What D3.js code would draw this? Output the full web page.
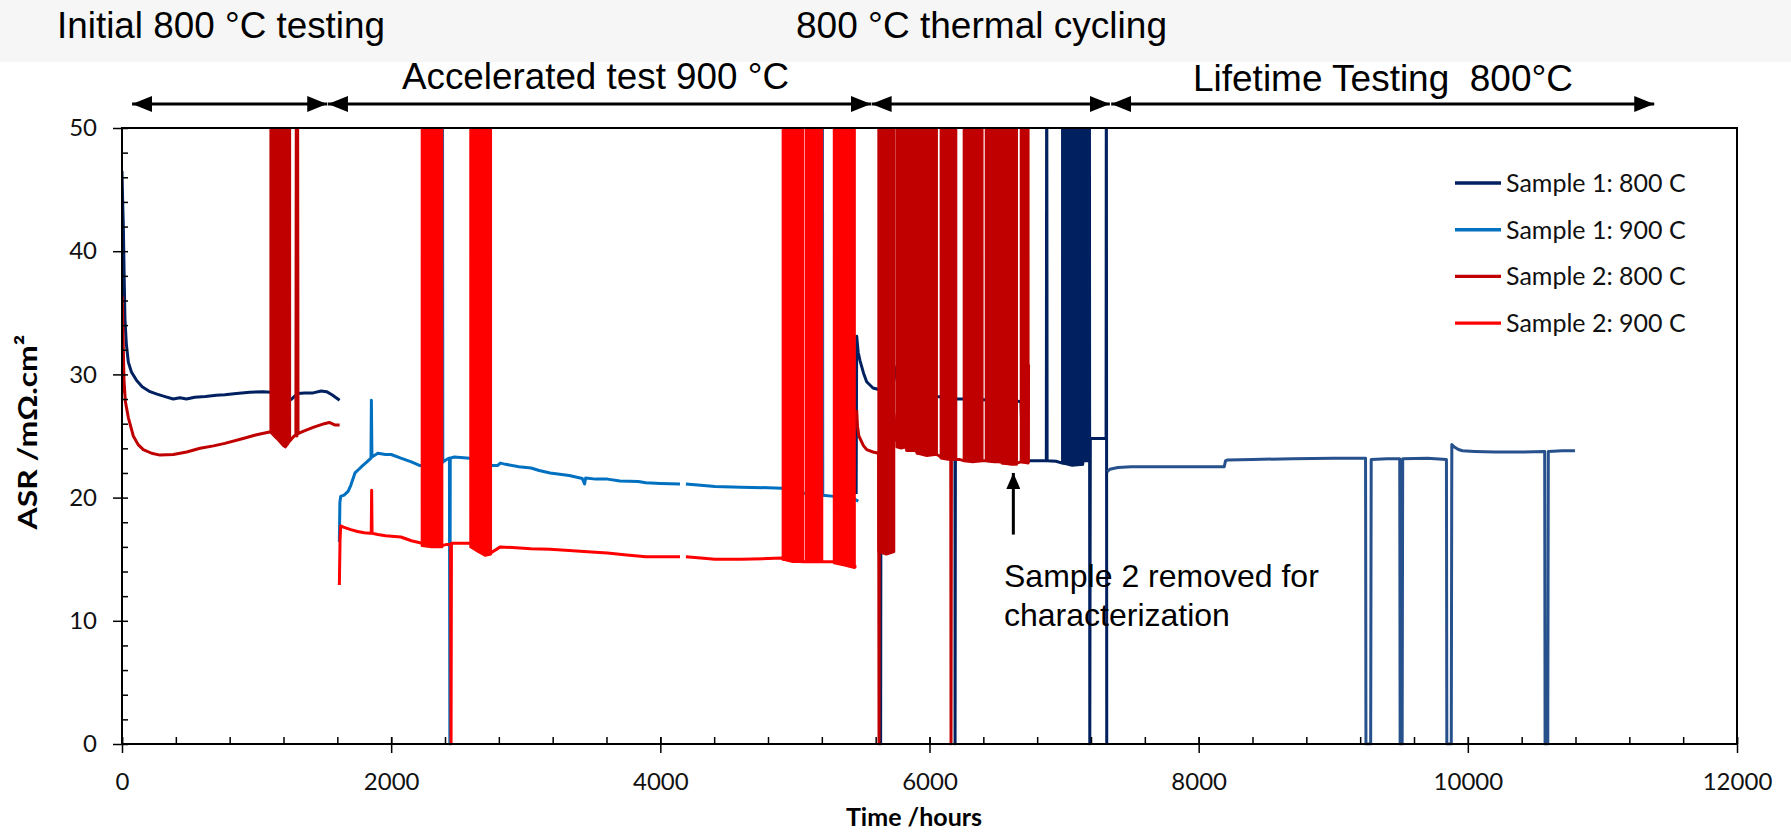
<!DOCTYPE html>
<html>
<head>
<meta charset="utf-8">
<script src="https://cdn.jsdelivr.net/npm/d3@7"></script>
<style>
  html, body { margin: 0; padding: 0; background: #fff; }
  svg { display: block; }
</style>
</head>
<body>
<svg id="chart" width="1791" height="832"></svg>
<script>
// ---------- data (time in hours, ASR in mΩ·cm²) ----------
const hourTicks = [0, 2000, 4000, 6000, 8000, 10000, 12000];
const asrTicks = [0, 10, 20, 30, 40, 50];

const seriesNames = ["Sample 1: 800 C", "Sample 1: 900 C", "Sample 2: 800 C", "Sample 2: 900 C"];

// null marks a break in the record
const sample1At800 = [
  [0, 46.5], [4, 44.5], [10, 42], [16, 38], [22, 34.5], [32, 32.5], [47, 31.0], [70, 30.2],
  [109, 29.5], [150, 29.0], [208, 28.6], [260, 28.4], [320, 28.2], [381, 28.0], [430, 28.1],
  [479, 28.0], [540, 28.15], [620, 28.2], [700, 28.3], [764, 28.35], [850, 28.45], [950, 28.55],
  [1048, 28.6], [1105, 28.55], [1160, 28.4], [1218, 27.8], [1260, 28.0], [1304, 28.45],
  [1360, 28.5], [1420, 28.5], [1480, 28.65], [1520, 28.6], [1560, 28.35], [1617, 27.9],
  null,
  [5455, 20.3], [5459, 33.1], [5470, 31.8], [5484, 31.1], [5510, 30.1], [5533, 29.4],
  [5580, 28.9], [5630, 28.75], [5634, 60], [5637, 0], [5640, 30.9], [5736, 30.7], [5768, 29.1],
  [5830, 28.7], [5950, 28.4], [6053, 28.2], [6150, 28.1], [6186, 28.05], [6188, 60], [6190, 0],
  [6193, 28.0], [6290, 28.0], [6400, 27.95], [6480, 27.9], [6580, 27.85], [6680, 27.8],
  [6692, 23.1], [6736, 23.0], [6800, 23.0], [6868, 23.0], [6871, 60], [6874, 23.0],
  [6940, 22.95], [6987, 22.8], [7138, 22.7], [7141, 23.0], [7186, 23.0], [7188, 60], [7191, 0],
  [7195, 24.8], [7250, 24.8], [7312, 24.8], [7314, 60], [7317, 0]
];

const sample1Lifetime = [
  [7321, 22.1], [7340, 22.3], [7400, 22.45], [7500, 22.5], [7700, 22.5], [7900, 22.5],
  [8050, 22.5], [8190, 22.5], [8200, 23.0], [8215, 23.05], [8400, 23.1], [8700, 23.15],
  [9000, 23.2], [9240, 23.2], [9243, 0], [9278, 0], [9282, 23.1], [9400, 23.15], [9494, 23.15],
  [9497, 0], [9512, 0], [9516, 23.15], [9700, 23.2], [9841, 23.1], [9844, 0], [9877, 0],
  [9881, 24.3], [9900, 24.1], [9930, 23.9], [9960, 23.8], [10050, 23.75], [10200, 23.7],
  [10400, 23.7], [10571, 23.75], [10574, 0], [10594, 0], [10598, 23.75], [10700, 23.8], [10796, 23.8]
];

const sample1At900 = [
  [1615, 16.4], [1619, 19.6], [1625, 20.1], [1650, 20.2], [1680, 20.5], [1700, 21.0],
  [1731, 22.0], [1760, 22.3], [1788, 22.6], [1820, 22.9], [1850, 23.2], [1853, 27.9],
  [1857, 23.3], [1901, 23.6], [1958, 23.5], [2000, 23.5], [2072, 23.2], [2150, 22.9],
  [2214, 22.6], [2300, 22.7], [2378, 22.8], [2381, 60], [2384, 22.9], [2413, 23.1],
  [2433, 23.2], [2436, 0], [2439, 23.2], [2470, 23.3], [2583, 23.2], [2650, 23.0],
  [2754, 22.6], [2790, 22.6], [2811, 22.8], [2850, 22.7], [2950, 22.5], [3039, 22.4],
  [3100, 22.2], [3181, 22.0], [3323, 21.8], [3420, 21.55], [3437, 21.1], [3445, 21.6],
  [3520, 21.5], [3607, 21.5], [3700, 21.35], [3836, 21.3], [3892, 21.2], [4000, 21.15],
  [4146, 21.1],
  null,
  [4190, 21.1], [4300, 21.0], [4405, 20.9], [4600, 20.85], [4800, 20.8], [4903, 20.75],
  [5000, 20.5], [5100, 20.3], [5201, 20.2], [5204, 60], [5207, 20.2], [5291, 20.1],
  [5400, 20.0], [5440, 19.9], [5471, 19.7]
];

const sample2At800 = [
  [0, 28.5], [2, 36.3], [8, 33], [15, 29.5], [25, 27.8], [47, 26.5], [84, 25.0], [120, 24.3],
  [158, 23.9], [220, 23.6], [282, 23.45], [381, 23.5], [481, 23.7], [580, 24.0], [680, 24.2],
  [764, 24.4], [900, 24.8], [1000, 25.1], [1105, 25.35], [1247, 24.6], [1270, 24.9],
  [1292, 25.1], [1296, 60], [1300, 25.0], [1304, 60], [1308, 25.2], [1350, 25.4], [1420, 25.7],
  [1503, 26.0], [1540, 26.1], [1580, 25.9], [1617, 25.9],
  null,
  [5459, 27.1], [5465, 25.8], [5475, 25.0], [5484, 24.8], [5510, 24.2], [5533, 23.9],
  [5580, 23.7], [5622, 23.6], [5625, 0], [5628, 23.6], [5736, 26.8], [5745, 25.6],
  [5756, 24.6], [5823, 24.1], [5830, 23.9], [5900, 23.8], [5909, 23.6], [6053, 23.5],
  [6070, 23.4], [6085, 23.3], [6158, 23.2], [6160, 0], [6163, 23.2], [6197, 23.1],
  [6220, 23.1], [6256, 23.0], [6392, 23.0], [6420, 23.0], [6531, 22.9], [6541, 22.8],
  [6648, 22.8], [6680, 22.9], [6734, 22.9], [6736, 30.8]
];

const sample2At900 = [
  [1615, 12.9], [1620, 16.5], [1625, 17.7], [1645, 17.6], [1700, 17.4], [1750, 17.25],
  [1800, 17.15], [1844, 17.1], [1852, 17.1], [1855, 20.6], [1858, 17.1], [1901, 17.0],
  [1958, 16.9], [2072, 16.8], [2150, 16.5], [2229, 16.3], [2378, 16.1], [2413, 16.2],
  [2442, 16.2], [2445, 0], [2448, 16.3], [2470, 16.3], [2583, 16.3], [2590, 16.3],
  [2740, 15.5], [2754, 15.6], [2811, 16.0], [2900, 15.95], [3039, 15.85], [3180, 15.8],
  [3323, 15.7], [3460, 15.6], [3607, 15.5], [3750, 15.35], [3892, 15.2], [4000, 15.2],
  [4146, 15.2],
  null,
  [4190, 15.2], [4300, 15.1], [4405, 15.0], [4600, 15.0], [4800, 15.05], [4903, 15.1],
  [4911, 15.0], [5060, 14.8], [5083, 14.8], [5201, 14.8], [5291, 14.8], [5443, 14.4], [5457, 14.4]
];

// Dense thermal-cycle excursions: each band lists [hour, lowest ASR reached]; the cycles run off the top of the scale
const sample1Bands = [
  [[6987, 22.8], [7060, 22.6], [7138, 22.7]],
  [[7141, 23.0], [7185, 23.0]]
];
const sample2At800Bands = [
  [[1105, 25.3], [1150, 24.8], [1200, 24.2], [1215, 24.1], [1235, 24.4], [1247, 24.7]],
  [[5622, 15.6], [5680, 15.4], [5736, 15.6]],
  [[5756, 24.1], [5790, 24.0], [5823, 24.1]],
  [[5830, 23.8], [5900, 23.8]],
  [[5909, 23.6], [5980, 23.4], [6053, 23.5]],
  [[6085, 23.2], [6140, 23.1], [6197, 23.1]],
  [[6256, 23.0], [6320, 22.9], [6392, 23.0]],
  [[6420, 23.0], [6480, 22.9], [6531, 22.9]],
  [[6541, 22.8], [6600, 22.7], [6648, 22.7]],
  [[6680, 22.9], [6734, 22.8]]
];
const sample2At900Bands = [
  [[2229, 16.1], [2300, 16.0], [2378, 16.0]],
  [[2590, 16.0], [2650, 15.6], [2700, 15.3], [2740, 15.4]],
  [[4911, 15.0], [4985, 14.8], [5060, 14.8]],
  [[5083, 14.8], [5140, 14.8], [5201, 14.8]],
  [[5291, 14.7], [5370, 14.5], [5443, 14.3]]
];

// test phases: label and [start, end] in hours
const phaseLabels = ["Initial 800 °C testing", "Accelerated test 900 °C", "800 °C thermal cycling", "Lifetime Testing  800°C"];
const phaseSpans = [[75, 1525], [1530, 5565], [5570, 7340], [7350, 11385]];

const removalNote = ["Sample 2 removed for", "characterization"];
const removalPoint = [6623, 22.0, 17.0]; // hour, arrow tip ASR, arrow tail ASR

// ---------- layout ----------
const W = 1791, H = 832;
const margin = { top: 128, right: 54, bottom: 88, left: 122 };
const colors = ["#002060", "#0070C0", "#C00000", "#FF0000"];
const lifetimeColor = "#27518c";

const svg = d3.select("#chart");

svg.append("rect").attr("x", 0).attr("y", 0).attr("width", W).attr("height", 62).attr("fill", "#f6f6f6");

const x = d3.scaleLinear().domain([0, 12000]).range([margin.left, W - margin.right]);
const y = d3.scaleLinear().domain([0, 50]).range([H - margin.bottom, margin.top]);

svg.append("defs").append("clipPath").attr("id", "plotClip")
  .append("rect")
  .attr("x", x(0)).attr("y", y(50))
  .attr("width", x(12000) - x(0)).attr("height", y(0) - y(50) + 1.5);

const plot = svg.append("g").attr("clip-path", "url(#plotClip)");

const line = d3.line()
  .defined(d => d !== null)
  .x(d => x(d[0]))
  .y(d => y(d[1]));

const band = d3.area()
  .x(d => x(d[0]))
  .y0(d => y(d[1]))
  .y1(y(50) - 2);

function drawBands(bands, color) {
  plot.append("g").selectAll("path").data(bands).join("path")
    .attr("d", band)
    .attr("fill", color)
    .attr("stroke", color)
    .attr("stroke-width", 2.6)
    .attr("stroke-linejoin", "round");
}
function drawSeries(data, color) {
  plot.append("path").datum(data)
    .attr("d", line)
    .attr("fill", "none")
    .attr("stroke", color)
    .attr("stroke-width", 3)
    .attr("stroke-linejoin", "round")
    .attr("stroke-linecap", "butt");
}

drawSeries(sample1At800, colors[0]);
drawBands(sample1Bands, colors[0]);
drawSeries(sample1Lifetime, lifetimeColor);
drawSeries(sample1At900, colors[1]);
drawSeries(sample2At800, colors[2]);
drawBands(sample2At800Bands, colors[2]);
drawSeries(sample2At900, colors[3]);
drawBands(sample2At900Bands, colors[3]);

// ---------- axes ----------
const tickFont = "Lato, 'Open Sans', sans-serif";
const minorHours = d3.range(0, 12001, 400);
const minorAsr = d3.range(0, 51, 2);

const xAxis = svg.append("g").attr("transform", `translate(0,${y(0)})`)
  .call(d3.axisBottom(x).tickValues(hourTicks).tickFormat(d3.format("d")).tickSize(9).tickPadding(20));
const xMinor = svg.append("g").attr("transform", `translate(0,${y(0)})`)
  .call(d3.axisBottom(x).tickValues(minorHours).tickFormat("").tickSize(-7));
const yAxis = svg.append("g").attr("transform", `translate(${x(0)},0)`)
  .call(d3.axisLeft(y).tickValues(asrTicks).tickSize(9).tickPadding(16));
const yMinor = svg.append("g").attr("transform", `translate(${x(0)},0)`)
  .call(d3.axisLeft(y).tickValues(minorAsr).tickFormat("").tickSize(-6));

[xAxis, xMinor, yAxis, yMinor].forEach(g => {
  g.select(".domain").remove();
  g.selectAll(".tick line").attr("stroke", "#000").attr("stroke-width", 1.5);
  g.selectAll(".tick text").attr("font-family", tickFont).attr("font-size", 24).attr("fill", "#111");
});
xAxis.selectAll(".tick line").attr("y1", -7);

// plot frame
svg.append("rect")
  .attr("x", x(0)).attr("y", y(50))
  .attr("width", x(12000) - x(0)).attr("height", y(0) - y(50))
  .attr("fill", "none").attr("stroke", "#000").attr("stroke-width", 2);

// axis titles
svg.append("text")
  .attr("x", 914).attr("y", 826)
  .attr("text-anchor", "middle")
  .attr("font-family", tickFont).attr("font-weight", "bold").attr("font-size", 25).attr("fill", "#000")
  .text("Time /hours");
svg.append("text")
  .attr("transform", "translate(37,432) rotate(-90)")
  .attr("text-anchor", "middle")
  .attr("font-family", tickFont).attr("font-weight", "bold").attr("font-size", 27).attr("fill", "#000")
  .attr("textLength", 195).attr("lengthAdjust", "spacingAndGlyphs")
  .text("ASR /mΩ.cm²");

// ---------- legend ----------
const legend = svg.append("g").attr("transform", "translate(1455,183)");
seriesNames.forEach((name, i) => {
  const row = legend.append("g").attr("transform", `translate(0,${i * 46.7})`);
  row.append("line").attr("x1", 0).attr("x2", 46).attr("y1", 0).attr("y2", 0)
    .attr("stroke", colors[i]).attr("stroke-width", 3.4);
  row.append("text").attr("x", 51).attr("y", 8.8)
    .attr("font-family", tickFont).attr("font-size", 25).attr("fill", "#111")
    .text(name);
});

// ---------- phase annotations ----------
const arrowY = 104;
const defs = svg.select("defs");
defs.append("marker").attr("id", "headEnd")
  .attr("viewBox", "0 0 20 16").attr("refX", 20).attr("refY", 8)
  .attr("markerWidth", 20).attr("markerHeight", 16).attr("markerUnits", "userSpaceOnUse")
  .attr("orient", "auto")
  .append("path").attr("d", "M0,0 L20,8 L0,16 Z").attr("fill", "#000");
defs.append("marker").attr("id", "headStart")
  .attr("viewBox", "0 0 20 16").attr("refX", 0).attr("refY", 8)
  .attr("markerWidth", 20).attr("markerHeight", 16).attr("markerUnits", "userSpaceOnUse")
  .attr("orient", "auto")
  .append("path").attr("d", "M20,0 L0,8 L20,16 Z").attr("fill", "#000");

svg.append("g").selectAll("line").data(phaseSpans).join("line")
  .attr("x1", d => x(d[0])).attr("x2", d => x(d[1]))
  .attr("y1", arrowY).attr("y2", arrowY)
  .attr("stroke", "#000").attr("stroke-width", 3)
  .attr("marker-start", "url(#headStart)").attr("marker-end", "url(#headEnd)");

const titleFont = "'Liberation Sans', Arial, sans-serif";
const phaseText = [
  { x: 57, y: 38, len: 328 },
  { x: 402, y: 89, len: 387 },
  { x: 796, y: 38, len: 371 },
  { x: 1193, y: 91, len: 380 }
];
phaseLabels.forEach((t, i) => {
  const p = phaseText[i];
  svg.append("text")
    .attr("x", p.x).attr("y", p.y)
    .attr("font-family", titleFont).attr("font-size", 37).attr("fill", "#000")
    .attr("textLength", p.len).attr("lengthAdjust", "spacingAndGlyphs")
    .style("white-space", "pre")
    .text(t);
});

// removal note with arrow
defs.append("marker").attr("id", "noteHead")
  .attr("viewBox", "0 0 16 14").attr("refX", 16).attr("refY", 7)
  .attr("markerWidth", 16).attr("markerHeight", 14).attr("markerUnits", "userSpaceOnUse")
  .attr("orient", "auto")
  .append("path").attr("d", "M0,0 L16,7 L0,14 Z").attr("fill", "#000");
svg.append("line")
  .attr("x1", x(removalPoint[0])).attr("x2", x(removalPoint[0]))
  .attr("y1", y(removalPoint[2])).attr("y2", y(removalPoint[1]))
  .attr("stroke", "#000").attr("stroke-width", 3)
  .attr("marker-end", "url(#noteHead)");
removalNote.forEach((t, i) => {
  svg.append("text")
    .attr("x", 1004).attr("y", 587 + i * 38.5)
    .attr("font-family", titleFont).attr("font-size", 32).attr("fill", "#000")
    .text(t);
});
</script>
</body>
</html>
